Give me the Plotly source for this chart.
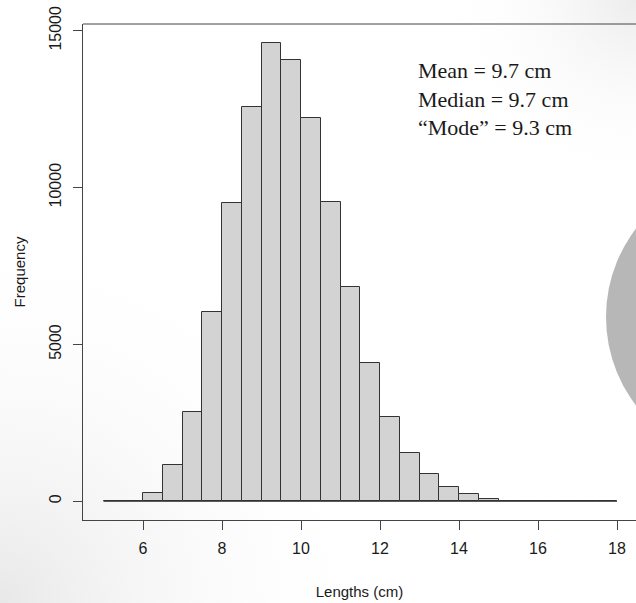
import base64
import plotly.graph_objects as go

# Histogram of fish lengths: 0.5 cm bins from 5 to 18 cm
bin_edges = [5.0 + 0.5 * i for i in range(27)]
counts = [0, 25, 265, 1155, 2845, 6020, 9510, 12560, 14600, 14055,
          12210, 9555, 6835, 4415, 2675, 1530, 860, 445, 232, 70,
          20, 0, 0, 0, 0, 0]

x_ticks = [6, 8, 10, 12, 14, 16, 18]
y_ticks = [0, 5000, 10000, 15000]
y_tick_labels = ["0", "5000", "10000", "15000"]

stats_lines = ["Mean = 9.7 cm", "Median = 9.7 cm", "\u201cMode\u201d = 9.3 cm"]

W, H = 636, 603
L, R, T, B = 83, 0, 24, 83

bin_centers = [(a + b) / 2 for a, b in zip(bin_edges[:-1], bin_edges[1:])]
bin_widths = [b - a for a, b in zip(bin_edges[:-1], bin_edges[1:])]

# Slide backdrop: soft grey corners and a grey disc on the right
bg_svg = f"""<svg xmlns='http://www.w3.org/2000/svg' width='{W}' height='{H}' viewBox='0 0 {W} {H}'>
<defs>
<radialGradient id='bl' cx='0' cy='{H}' r='380' gradientUnits='userSpaceOnUse'>
<stop offset='0' stop-color='#e8e8e8'/><stop offset='1' stop-color='#ffffff' stop-opacity='0'/></radialGradient>
<radialGradient id='tr' cx='{W}' cy='0' r='190' gradientUnits='userSpaceOnUse'>
<stop offset='0' stop-color='#ececec'/><stop offset='1' stop-color='#ffffff' stop-opacity='0'/></radialGradient>
</defs>
<rect width='{W}' height='{H}' fill='#ffffff'/>
<rect width='{W}' height='{H}' fill='url(#bl)'/>
<rect width='{W}' height='{H}' fill='url(#tr)'/>
<circle cx='751.5' cy='317' r='145.5' fill='#b7b7b7'/>
</svg>"""
bg_uri = "data:image/svg+xml;base64," + base64.b64encode(bg_svg.encode()).decode()

fig = go.Figure()

# Zero line spanning all bins (empty bins collapse onto it)
fig.add_trace(go.Scatter(
    x=[bin_edges[0], bin_edges[-1]], y=[0, 0], mode="lines",
    line=dict(color="#333333", width=1), hoverinfo="skip", showlegend=False,
))

fig.add_trace(go.Bar(
    x=bin_centers, y=counts, width=bin_widths,
    marker=dict(color="#d3d3d3", line=dict(color="#333333", width=1)),
    showlegend=False,
))

tick_font = dict(family="Liberation Sans, Arial, sans-serif", size=16, color="#1a1a1a")
title_font = dict(family="Liberation Sans, Arial, sans-serif", size=15, color="#1a1a1a")

fig.update_layout(
    width=W, height=H,
    margin=dict(l=L, r=R, t=T, b=B, pad=0),
    paper_bgcolor="rgba(0,0,0,0)",
    plot_bgcolor="rgba(0,0,0,0)",
    bargap=0,
    images=[dict(source=bg_uri, xref="paper", yref="paper",
                 x=-L / (W - L - R), y=1 + T / (H - T - B),
                 sizex=W / (W - L - R), sizey=H / (H - T - B),
                 xanchor="left", yanchor="top", sizing="stretch", layer="below")],
    xaxis=dict(
        range=[4.481, 18.481], tickvals=x_ticks, ticks="outside", ticklen=9,
        tickwidth=1, tickcolor="#444444", showline=True, linecolor="#444444",
        linewidth=1, showgrid=False, zeroline=False, tickfont=tick_font,
        ticklabelstandoff=5,
        title=dict(text="Lengths (cm)", font=title_font, standoff=30),
    ),
    yaxis=dict(
        range=[-596, 15215], tickvals=y_ticks, ticktext=y_tick_labels,
        ticks="outside", ticklen=9,
        tickwidth=1, tickcolor="#444444", showline=True, linecolor="#444444",
        linewidth=1, showgrid=False, zeroline=False, tickfont=tick_font,
        tickangle=-90, ticklabelstandoff=6,
        title=dict(text="Frequency", font=title_font, standoff=17),
    ),
    shapes=[dict(type="line", xref="paper", yref="paper", x0=0, x1=1.05, y0=1, y1=1,
                 line=dict(color="#444444", width=1))],
    annotations=[dict(
        text="<br>".join(stats_lines), xref="paper", yref="paper",
        x=(416 - L) / (W - L - R), y=(H - B - 56) / (H - T - B),
        xanchor="left", yanchor="top", align="left", showarrow=False,
        font=dict(family="Liberation Serif, Times New Roman, serif", size=22, color="#1a1a1a"),
    )],
)

fig.write_html("out.html")
